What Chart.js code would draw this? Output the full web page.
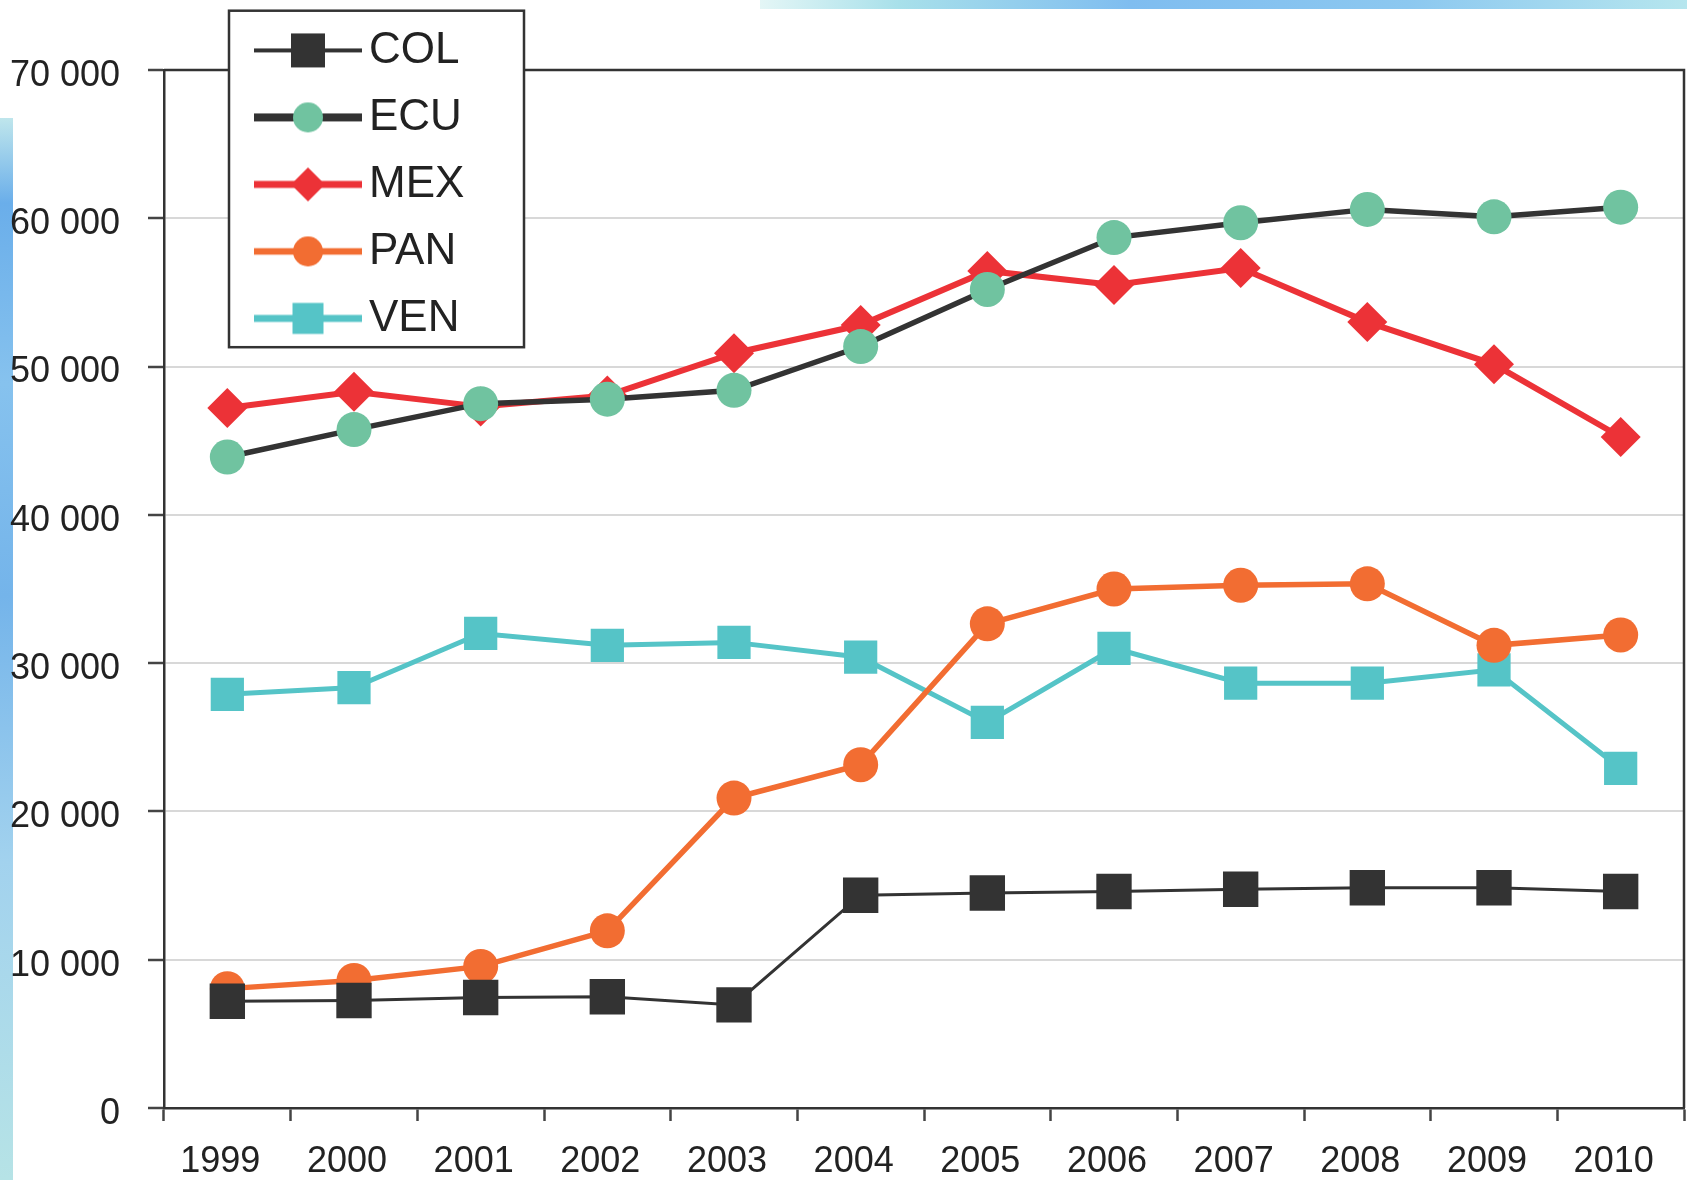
<!DOCTYPE html>
<html>
<head>
<meta charset="utf-8">
<script src="https://cdn.jsdelivr.net/npm/chart.js@4.4.1/dist/chart.umd.min.js"></script>
<style>
html,body{margin:0;padding:0;background:#fff;width:1687px;height:1180px;overflow:hidden;}
#wrap{position:relative;width:1687px;height:1180px;}
.deco{position:absolute;z-index:0;}
#leftStrip{left:0;top:118px;width:13px;height:1062px;background:linear-gradient(to bottom,#bfe6ec 0%,#6aaeea 8%,#86c2ee 25%,#74b4ea 45%,#a2d2ee 70%,#b6e3e6 100%);}
#topStrip{left:760px;top:0;width:927px;height:9px;background:linear-gradient(to right,#e4f6f6 0%,#a8e0ea 15%,#7fbdf0 40%,#8cc8f0 70%,#b6e6ee 100%);}
canvas{position:absolute;left:0;top:0;z-index:1;}
</style>
</head>
<body>
<div id="wrap">
  <div class="deco" id="leftStrip"></div>
  <div class="deco" id="topStrip"></div>
  <canvas id="c" width="1687" height="1180"></canvas>
</div>
<script>
// ---- data ----
const years = ['1999','2000','2001','2002','2003','2004','2005','2006','2007','2008','2009','2010'];
const seriesNames = ['COL','ECU','MEX','PAN','VEN'];
const COL = [7200, 7250, 7450, 7500, 6950, 14350, 14500, 14600, 14750, 14850, 14850, 14600];
const ECU = [43900, 45750, 47500, 47800, 48400, 51350, 55200, 58700, 59700, 60600, 60100, 60750];
const MEX = [47200, 48300, 47300, 48050, 50900, 52800, 56450, 55500, 56650, 53000, 50150, 45250];
const PAN = [8050, 8600, 9550, 11950, 20900, 23150, 32650, 35000, 35250, 35350, 31200, 31900];
const VEN = [27900, 28350, 32000, 31200, 31400, 30400, 26000, 31000, 28650, 28650, 29550, 22900];
const yTicks = [0, 10000, 20000, 30000, 40000, 50000, 60000, 70000];

// ---- styles ----
const C_COL = '#333333', C_ECU_LINE = '#333333', C_ECU = '#70c3a0',
      C_MEX = '#ec3237', C_PAN = '#f26d32', C_VEN = '#55c4c7';

Chart.defaults.font.family = "'Liberation Sans', Arial, Helvetica, sans-serif";
Chart.defaults.color = '#222';

function fmt(v){ return String(v).replace(/\B(?=(\d{3})+(?!\d))/g, ' '); }

function legendSample(lineColor, lineWidth, fill, shape, r){
  const c = document.createElement('canvas');
  c.width = 108; c.height = 40;
  const g = c.getContext('2d');
  g.strokeStyle = lineColor; g.lineWidth = lineWidth;
  g.beginPath(); g.moveTo(0, 20); g.lineTo(108, 20); g.stroke();
  g.fillStyle = fill; g.beginPath();
  if (shape === 'rect') g.rect(54 - r, 20 - r, 2 * r, 2 * r);
  else if (shape === 'circle') g.arc(54, 20, r, 0, Math.PI * 2);
  else { g.moveTo(54 - r, 20); g.lineTo(54, 20 - r); g.lineTo(54 + r, 20); g.lineTo(54, 20 + r); g.closePath(); }
  g.fill();
  return c;
}
const legendImgs = [
  legendSample(C_COL, 4, C_COL, 'rect', 17),
  legendSample(C_ECU_LINE, 8, C_ECU, 'circle', 15),
  legendSample(C_MEX, 7, C_MEX, 'diamond', 17),
  legendSample(C_PAN, 6.5, C_PAN, 'circle', 15),
  legendSample(C_VEN, 7, C_VEN, 'rect', 15.5)
];

const LEG_LEFT = 246, LEG_TOP = 5.4;

const legendPlacer = {
  id: 'legendPlacer',
  afterInit(chart){
    const L = chart.legend;
    const orig = L.draw;
    L.draw = function(){
      const ctx = chart.ctx, ca = chart.chartArea;
      ctx.save();
      // plot frame (top and right)
      ctx.strokeStyle = '#333'; ctx.lineWidth = 2.5;
      ctx.beginPath(); ctx.moveTo(ca.left, ca.top); ctx.lineTo(ca.right, ca.top); ctx.lineTo(ca.right, ca.bottom); ctx.stroke();
      // legend box
      const bx = this.left - 17, by = this.top + 5.3, bw = 295, bh = 336.5;
      ctx.fillStyle = '#fff'; ctx.fillRect(bx, by, bw, bh);
      ctx.strokeStyle = '#333'; ctx.lineWidth = 2.5; ctx.strokeRect(bx, by, bw, bh);
      ctx.restore();
      return orig.apply(this, arguments);
    };
  },
  afterLayout(chart){
    const L = chart.legend;
    const w = L.width, h = L.height;
    L.left = LEG_LEFT; L.top = LEG_TOP; L.right = LEG_LEFT + w; L.bottom = LEG_TOP + h;
  }
};

function ds(label, data, lineColor, lineWidth, pointColor, style, radius){
  return {
    label, data,
    borderColor: lineColor, borderWidth: lineWidth,
    backgroundColor: pointColor,
    pointStyle: style, pointRadius: radius, pointHoverRadius: radius,
    pointBackgroundColor: pointColor, pointBorderWidth: 0, pointBorderColor: pointColor,
    tension: 0, fill: false
  };
}

new Chart(document.getElementById('c'), {
  type: 'line',
  data: {
    labels: years,
    datasets: [
      ds(seriesNames[0], COL, C_COL, 3, C_COL, 'rect', 25),
      ds(seriesNames[1], ECU, C_ECU_LINE, 5.5, C_ECU, 'circle', 17.5),
      ds(seriesNames[2], MEX, C_MEX, 6, C_MEX, 'rectRot', 20),
      ds(seriesNames[3], PAN, C_PAN, 5.5, C_PAN, 'circle', 17.5),
      ds(seriesNames[4], VEN, C_VEN, 5, C_VEN, 'rect', 23.5)
    ]
  },
  options: {
    responsive: false,
    animation: false,
    devicePixelRatio: 1,
    layout: { autoPadding: false, padding: { left: 0, top: 70, right: 3, bottom: 0 } },
    plugins: {
      tooltip: { enabled: false },
      legend: {
        position: 'chartArea',
        align: 'start',
        labels: {
          usePointStyle: true,
          pointStyleWidth: 78,
          padding: 23,
          color: '#222',
          font: { size: 44 },
          generateLabels(chart){
            return chart.data.datasets.map((d, i) => ({
              text: d.label, datasetIndex: i, hidden: false,
              pointStyle: legendImgs[i], fillStyle: d.backgroundColor,
              strokeStyle: 'rgba(0,0,0,0)', lineWidth: 0, fontColor: '#222'
            }));
          }
        }
      }
    },
    scales: {
      x: {
        offset: true,
        ticks: { color: '#222', font: { size: 36 }, padding: 19, labelOffset: -7, maxRotation: 0, autoSkip: false },
        grid: { offset: true, drawOnChartArea: false, tickLength: 13, tickColor: '#444', tickWidth: 2.5 },
        border: { color: '#333', width: 2.5 },
        afterFit(s){ s.height = 72; s.paddingLeft = 0; s.paddingRight = 0; }
      },
      y: {
        min: 0, max: 70000,
        afterBuildTicks(s){ s.ticks = yTicks.map(v => ({ value: v })); },
        ticks: { color: '#222', font: { size: 36 }, padding: 28, labelOffset: 6, callback: v => fmt(v) },
        grid: { color: '#d8d8d8', lineWidth: 2, tickColor: '#444', tickLength: 16, tickWidth: 2.5 },
        border: { color: '#333', width: 2.5 },
        afterFit(s){ s.width = 164; s.paddingTop = 0; s.paddingBottom = 0; }
      }
    }
  },
  plugins: [legendPlacer]
});
</script>
</body>
</html>
